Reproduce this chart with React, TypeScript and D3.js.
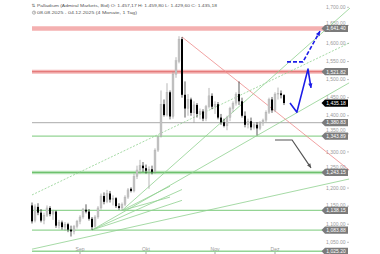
import React from "react";
import * as d3 from "d3";

// ---- DATA ----
const monthDays: [number, number[]][] = [
  [8, [8, 11, 12, 13, 14, 15, 18, 19, 20, 21, 22, 25, 26, 27, 28, 29]],
  [9, [1, 2, 3, 4, 5, 8, 9, 10, 11, 12, 15, 16, 17, 18, 19, 22, 23, 24, 25, 26, 29, 30]],
  [10, [1, 2, 3, 6, 7, 8, 9, 10, 13, 14, 15, 16, 17, 20, 21, 22, 23, 24, 27, 28, 29, 30, 31]],
  [11, [3, 4, 5, 6, 7, 10, 11, 12, 13, 14, 17, 18, 19, 20, 21, 24, 25, 26, 27, 28]],
  [12, [1, 2, 3, 4]],
];
const dates: string[] = monthDays.flatMap(([m, ds]) =>
  ds.map((d) => `2025-${String(m).padStart(2, "0")}-${String(d).padStart(2, "0")}`)
);

const opens = [1152, 1110, 1148, 1132, 1110, 1125, 1145, 1128, 1135, 1096, 1105, 1092, 1100, 1085, 1080, 1094,
  1108, 1120, 1140, 1135, 1115, 1094, 1120, 1145, 1178, 1162, 1185, 1168, 1172, 1150, 1145, 1155, 1175, 1198, 1192, 1232, 1250, 1262,
  1255, 1248, 1252, 1245, 1305, 1345, 1432, 1402, 1465, 1398, 1515, 1550, 1612, 1458, 1420, 1445, 1408, 1430, 1405, 1412, 1392, 1425, 1455,
  1425, 1432, 1395, 1382, 1372, 1395, 1420, 1435, 1460, 1440, 1400, 1375, 1385, 1368, 1375, 1365, 1380, 1388, 1410, 1445,
  1415, 1460, 1462, 1457.17];
const highs = [1160, 1155, 1158, 1142, 1132, 1152, 1150, 1140, 1138, 1112, 1110, 1106, 1104, 1096, 1098, 1112,
  1125, 1145, 1155, 1142, 1120, 1125, 1150, 1185, 1188, 1195, 1192, 1180, 1175, 1158, 1160, 1180, 1200, 1202, 1240, 1262, 1278, 1272,
  1265, 1260, 1262, 1310, 1345, 1470, 1445, 1490, 1470, 1522, 1562, 1620, 1618, 1495, 1460, 1450, 1440, 1435, 1420, 1418, 1430, 1477, 1462,
  1440, 1438, 1405, 1392, 1400, 1425, 1440, 1465, 1495, 1450, 1412, 1392, 1395, 1380, 1382, 1385, 1392, 1415, 1450, 1452,
  1465, 1478, 1470, 1459.8];
const lows = [1102, 1105, 1125, 1105, 1100, 1120, 1122, 1112, 1090, 1088, 1085, 1082, 1078, 1066, 1072, 1088,
  1100, 1115, 1130, 1110, 1084, 1090, 1115, 1140, 1155, 1158, 1160, 1152, 1145, 1140, 1138, 1150, 1170, 1188, 1188, 1225, 1240, 1245,
  1240, 1198, 1238, 1240, 1300, 1340, 1398, 1398, 1390, 1392, 1505, 1545, 1450, 1395, 1400, 1400, 1380, 1395, 1390, 1385, 1385, 1420, 1418,
  1405, 1390, 1375, 1368, 1360, 1385, 1410, 1428, 1430, 1395, 1368, 1365, 1360, 1362, 1346, 1360, 1372, 1382, 1405, 1408,
  1410, 1445, 1448, 1429.6];
const closes = [1108, 1148, 1132, 1110, 1125, 1145, 1128, 1135, 1096, 1105, 1092, 1100, 1085, 1080, 1094, 1108,
  1120, 1140, 1135, 1115, 1092, 1120, 1145, 1178, 1162, 1185, 1168, 1172, 1150, 1145, 1155, 1175, 1195, 1192, 1232, 1250, 1262, 1255,
  1248, 1252, 1245, 1305, 1340, 1432, 1402, 1465, 1398, 1515, 1552, 1612, 1458, 1420, 1445, 1408, 1430, 1405, 1412, 1392, 1425, 1455, 1425,
  1432, 1395, 1382, 1372, 1395, 1420, 1435, 1460, 1440, 1400, 1375, 1385, 1368, 1375, 1365, 1380, 1388, 1410, 1445, 1415,
  1460, 1462, 1457, 1435.18];

const yTicks = [1700, 1650, 1600, 1550, 1500, 1450, 1400, 1350, 1300, 1250, 1200, 1150, 1100, 1050];
const monthLabels = ["Sep", "Okt", "Nov", "Dez"];
const monthStarts = ["2025-09-01", "2025-10-01", "2025-11-03", "2025-12-01"];

const levelPrices = [1641.4, 1521.82, 1380.83, 1343.89, 1243.15, 1138.15, 1083.88, 1025.2];
const levelKinds = ["res", "resCore", "gray", "sup", "supMajor", "sup", "sup", "sup"];
const lastPrice = 1435.18;

// trend lines: [startIndex, startPrice, endIndex, endPrice]
const trendLines: [number, number, number, number][] = [
  [0, 1181, 105.7, 1601],
  [30, 1138, 106, 1698],
  [20, 1084, 105.7, 1491],
  [0, 1031, 105.7, 1225],
  [20, 1084, 50, 1196],
  [20, 1084, 50, 1166],
  [30, 1138, 46, 1205],
  [30, 1138, 46, 1175],
  [50, 1618, 105.7, 1250],
];
const trendKinds = ["dotted", "green", "green", "green", "green", "green", "green", "green", "red"];

const blueSolid: [number, number][] = [[86, 1435], [88.3, 1410], [92, 1529], [93, 1477]];
const blueDashed: [number, number][] = [[85, 1549], [90.3, 1549], [96, 1634]];
const grayArrow: [number, number][] = [[81, 1333], [86.7, 1333], [93, 1256]];

// ---- CHART ----
const W = 380, H = 254;
const x = d3.scaleLinear().domain([0, 84]).range([32, 284]);
const y = d3.scaleLinear().domain([1050, 1700]).range([242.3, 7.3]);
const fmt = d3.format(",.2f");
const FONT = "'Liberation Sans', Arial, sans-serif";
const BOX_H = 3.6;

function arrowHead(pts: [number, number][], size: number) {
  const n = pts.length;
  const [x1, y1] = [x(pts[n - 2][0]), y(pts[n - 2][1])];
  const [x2, y2] = [x(pts[n - 1][0]), y(pts[n - 1][1])];
  const a = Math.atan2(y2 - y1, x2 - x1);
  const p1 = [x2 - size * Math.cos(a - 0.45), y2 - size * Math.sin(a - 0.45)];
  const p2 = [x2 - size * Math.cos(a + 0.45), y2 - size * Math.sin(a + 0.45)];
  return `${x2},${y2} ${p1[0]},${p1[1]} ${p2[0]},${p2[1]}`;
}

function PriceBox({ price, fill }: { price: number; fill: string }) {
  const cy = y(price);
  const l = 325, r = 348, h = BOX_H;
  return (
    <g>
      <polygon points={`${l - 3.5},${cy} ${l},${cy - h} ${r},${cy - h} ${r},${cy + h} ${l},${cy + h}`} fill={fill} />
      <text x={(l + r) / 2 - 0.5} y={cy + 1.8} fontSize={5} fill="#fff" textAnchor="middle" fontFamily={FONT}>
        {fmt(price)}
      </text>
    </g>
  );
}

export default function App() {
  const line = d3.line<[number, number]>().x((d) => x(d[0])).y((d) => y(d[1]));
  const xL = 32, xR = 324;
  const boxYs = [...levelPrices, lastPrice].map((p) => y(p));
  const tickBaseline = (t: number) => {
    let b = y(t) + 1.7;
    for (const by of boxYs) {
      const top = by - BOX_H;
      const bottom = by + BOX_H;
      // text occupies roughly [b-3.6, b]
      if (b > top - 0.2 && b - 3.6 < bottom) {
        if (by >= y(t)) b = top - 0.3;
        else b = bottom + 3.8;
      }
    }
    return b;
  };
  return (
    <svg width={W} height={H} style={{ position: "absolute", left: 0, top: 0, background: "#fff" }}>
      <defs>
        <clipPath id="plot">
          <rect x={0} y={0} width={350} height={H} />
        </clipPath>
      </defs>

      {/* header */}
      <text x={31.5} y={6.6} fontSize={4.6} fill="#666" fontFamily="DejaVu Sans">⇅</text>
      <text x={37} y={6.6} fontSize={4.4} fill="#555" fontFamily={FONT} textLength={180} lengthAdjust="spacingAndGlyphs">
        Palladium (Admiral Markets, Bid)  O: 1.457,17  H: 1.459,80  L: 1.429,60  C: 1.435,18
      </text>
      <circle cx={34} cy={12.6} r={1.6} fill="none" stroke="#666" strokeWidth={0.5} />
      <path d="M34,11.6 L34,12.6 L34.8,12.6" fill="none" stroke="#666" strokeWidth={0.4} />
      <text x={37} y={14.2} fontSize={4.4} fill="#555" fontFamily={FONT} textLength={100} lengthAdjust="spacingAndGlyphs">
        08.08.2025 - 04.12.2025  (4 Monate, 1 Tag)
      </text>

      {/* y tick labels */}
      {yTicks.map((t) => (
        <g key={t}>
          <text x={345.5} y={tickBaseline(t)} fontSize={5} fill="#9a9a9a" textAnchor="end" fontFamily={FONT}>{fmt(t)}</text>
          <line x1={347} x2={349} y1={y(t)} y2={y(t)} stroke="#9a9a9a" strokeWidth={0.6} />
        </g>
      ))}

      {/* horizontal levels */}
      {levelPrices.map((p, i) => {
        const k = levelKinds[i];
        const yy = y(p);
        if (k === "res")
          return <line key={i} x1={xL} x2={xR} y1={yy} y2={yy} stroke="#f4b0b0" strokeWidth={4.5} />;
        if (k === "resCore")
          return (
            <g key={i}>
              <line x1={xL} x2={xR} y1={yy} y2={yy} stroke="#f4b6b6" strokeWidth={4} />
              <line x1={xL} x2={xR} y1={yy} y2={yy} stroke="#e06a6a" strokeWidth={1} />
            </g>
          );
        if (k === "gray")
          return <line key={i} x1={xL} x2={xR} y1={yy} y2={yy} stroke="#a0a0a0" strokeWidth={0.9} />;
        if (k === "supMajor")
          return (
            <g key={i}>
              <line x1={xL} x2={xR} y1={yy} y2={yy} stroke="#b6e2b6" strokeWidth={3.6} />
              <line x1={xL} x2={xR} y1={yy} y2={yy} stroke="#6cc06c" strokeWidth={1} />
            </g>
          );
        return <line key={i} x1={xL} x2={xR} y1={yy} y2={yy} stroke="#94d494" strokeWidth={1.3} />;
      })}

      {/* trend lines */}
      <g clipPath="url(#plot)">
        {trendLines.map((t, i) => {
          const k = trendKinds[i];
          const stroke = k === "red" ? "#ee8a8a" : "#8fd08f";
          return (
            <line key={i} x1={x(t[0])} y1={y(t[1])} x2={x(t[2])} y2={y(t[3])}
              stroke={stroke} strokeWidth={0.8} strokeDasharray={k === "dotted" ? "2,1.5" : undefined} />
          );
        })}
      </g>

      {/* candles */}
      {dates.map((d, i) => {
        const o = opens[i], c = closes[i], h = highs[i], l = lows[i];
        const up = c >= o;
        const cx = x(i);
        const top = y(Math.max(o, c)), bot = y(Math.min(o, c));
        return (
          <g key={d}>
            <line x1={cx} x2={cx} y1={y(h)} y2={y(l)} stroke={up ? "#9a9a9a" : "#111"} strokeWidth={0.7} />
            <rect x={cx - 1} y={top} width={2} height={Math.max(0.7, bot - top)} fill={up ? "#c4c4c4" : "#000"}
              stroke={up ? "#a8a8a8" : "none"} strokeWidth={0.3} />
          </g>
        );
      })}

      {/* arrows */}
      <path d={line(grayArrow) || ""} fill="none" stroke="#555" strokeWidth={1.2} />
      <polygon points={arrowHead(grayArrow, 4.5)} fill="#555" />
      <path d={line(blueSolid) || ""} fill="none" stroke="#1c1ce8" strokeWidth={1.6} strokeLinejoin="round" />
      <polygon points={arrowHead(blueSolid, 5)} fill="#1c1ce8" />
      <path d={line(blueDashed) || ""} fill="none" stroke="#1c1ce8" strokeWidth={1.6} strokeDasharray="4,2" />
      <polygon points={arrowHead(blueDashed, 5)} fill="#1c1ce8" />

      {/* price boxes */}
      {levelPrices.map((p) => (
        <PriceBox key={p} price={p} fill="#7b7b7b" />
      ))}
      <PriceBox price={lastPrice} fill="#000" />

      {/* x axis months */}
      {monthLabels.map((m, i) => {
        const idx = dates.indexOf(monthStarts[i]);
        const xx = x(idx);
        return (
          <g key={m}>
            <text x={xx} y={250.5} fontSize={5} fill="#9a9a9a" textAnchor="middle" fontFamily={FONT}>{m}</text>
            <line x1={xx} x2={xx} y1={252} y2={254} stroke="#666" strokeWidth={0.6} />
          </g>
        );
      })}
    </svg>
  );
}
